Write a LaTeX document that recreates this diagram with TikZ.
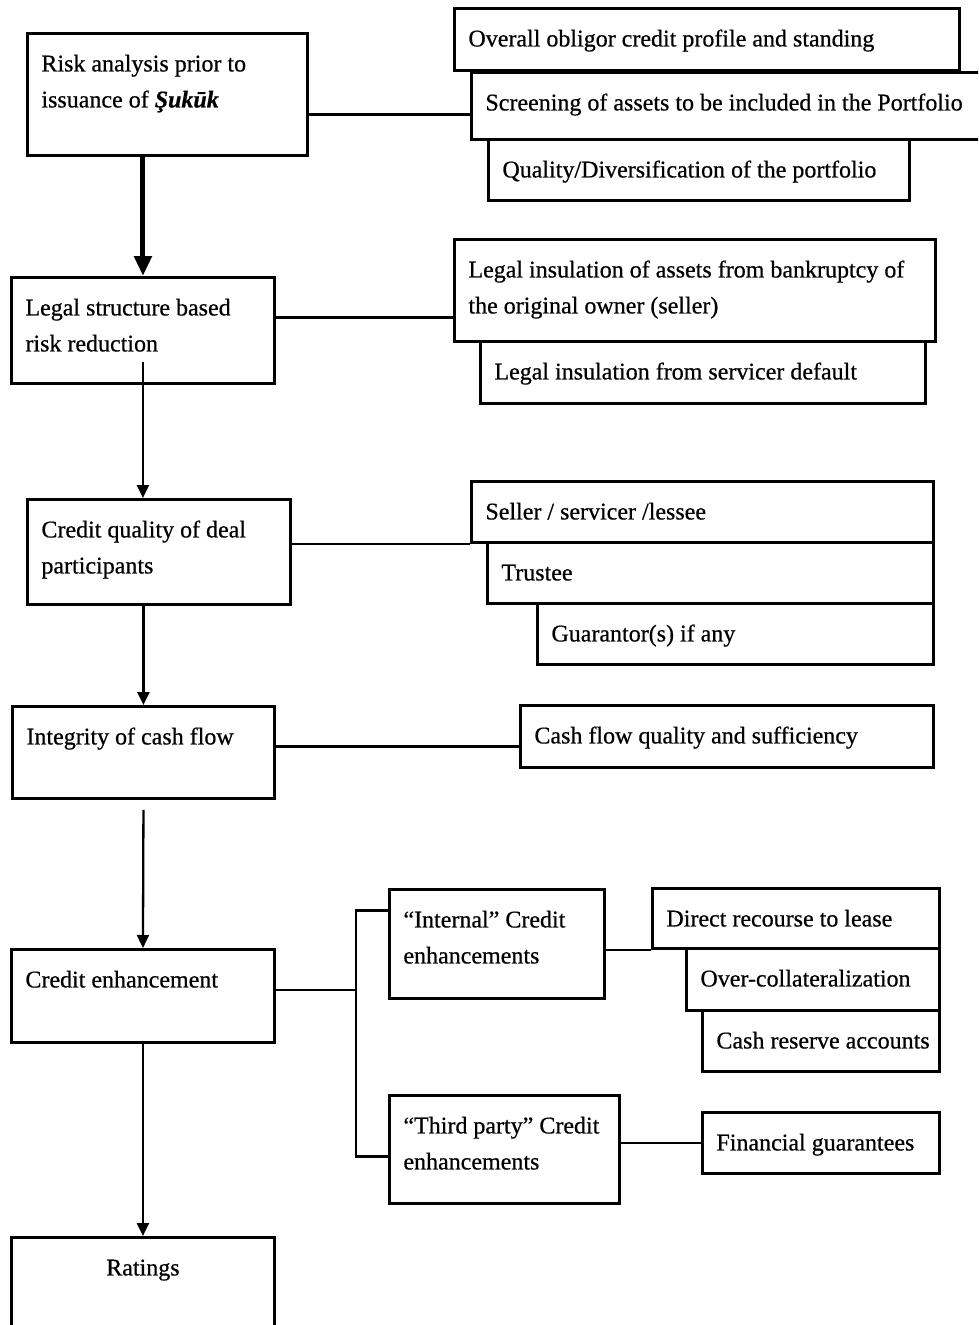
\documentclass[tikz,border=0pt]{standalone}
\usepackage{fontspec}
\setmainfont[FakeBold=0.6]{Liberation Serif}
\usetikzlibrary{arrows.meta}
\newcommand{\boxtext}[3]{\parbox[t][#2][t]{#1}{\raggedright\leftskip=14pt\rule{0pt}{38pt}#3}}
\tikzset{
  panel/.style={draw, fill=white, line width=2.9pt, inner sep=0pt, anchor=north west,
    font=\fontsize{24}{36}\selectfont},
  link/.style={line width=2.5pt},
  flow/.style={line width=2.3pt, -{Triangle[width=12pt,length=13pt]}},
  heavy/.style={line width=5pt, -{Triangle[width=17pt,length=20pt]}}
}
\begin{document}
\begin{tikzpicture}[x=1pt, y=-1pt]
		%%%%% START %%%%%
		\useasboundingbox (0,0) rectangle (978,1325);
		\clip (0,0) rectangle (978,1325);
		
		% main column
		\node[panel] (risk) at (26,32) {\boxtext{280pt}{122pt}{Risk analysis prior to\\issuance of \textbf{\textit{Şukūk}}}};
		\node[panel] (legal) at (10,276) {\boxtext{263pt}{106pt}{Legal structure based\\risk reduction}};
		\node[panel] (quality) at (26,498) {\boxtext{263pt}{105pt}{Credit quality of deal\\participants}};
		\node[panel] (integrity) at (11,705) {\boxtext{262pt}{92pt}{Integrity of cash flow}};
		\node[panel] (enhance) at (10,948) {\boxtext{263pt}{93pt}{Credit enhancement}};
		\node[panel] (ratings) at (10,1236) {\parbox[t][110pt][t]{263pt}{\centering\rule{0pt}{38pt}Ratings}};
		
		% risk analysis
		\node[panel] (obligor) at (453,7) {\boxtext{505pt}{62pt}{Overall obligor credit profile and standing}};
		\node[panel] (screening) at (470,71) {\boxtext{540pt}{67pt}{Screening of assets to be included in the Portfolio}};
		\node[panel] (portfolio) at (487,138) {\boxtext{421pt}{61pt}{Quality/Diversification of the portfolio}};
		
		% legal structure
		\node[panel] (bankrupt) at (453,238) {\boxtext{481pt}{102pt}{Legal insulation of assets from bankruptcy of\\the original owner (seller)}};
		\node[panel] (servicer) at (479,340) {\boxtext{445pt}{62pt}{Legal insulation from servicer default}};
		
		% deal participants
		\node[panel] (seller) at (470,480) {\boxtext{462pt}{61pt}{Seller / servicer /lessee}};
		\node[panel] (trustee) at (486,541) {\boxtext{446pt}{61pt}{Trustee}};
		\node[panel] (guarantor) at (536,602) {\boxtext{396pt}{61pt}{Guarantor(s) if any}};
		
		% cash flow
		\node[panel] (cashflow) at (519,704) {\boxtext{413pt}{62pt}{Cash flow quality and sufficiency}};
		
		% credit enhancement
		\node[panel] (internal) at (388,888) {\boxtext{215pt}{109pt}{“Internal” Credit\\enhancements}};
		\node[panel] (direct) at (651,887) {\boxtext{287pt}{60pt}{Direct recourse to lease}};
		\node[panel] (overcoll) at (685,947) {\boxtext{253pt}{62pt}{Over-collateralization}};
		\node[panel] (reserve) at (701,1009) {\boxtext{237pt}{61pt}{Cash reserve accounts}};
		\node[panel] (thirdparty) at (388,1094) {\boxtext{230pt}{108pt}{“Third party” Credit\\enhancements}};
		\node[panel] (guarantees) at (701,1111) {\boxtext{237pt}{61pt}{Financial guarantees}};
		\coordinate (fork) at (356,990);
		
		% arrows down the main column
		\draw[heavy] (risk.south -| legal.north) -- (legal.north);
		\draw[flow] ([yshift=23pt]legal.south) -- (legal.south |- quality.north);
		\draw[flow] (quality.south -| integrity.north) -- (integrity.north);
		\draw[flow] ([yshift=-10pt]integrity.south) -- (enhance.north);
		\draw[flow] (enhance.south) -- (ratings.north);
		
		% side links
		\draw[link] ([yshift=-20pt]risk.east) -- ([yshift=-20pt]risk.east -| screening.west);
		\draw[link] ([yshift=13pt]legal.east) -- ([yshift=13pt]legal.east -| bankrupt.west);
		\draw[link] (seller.south west -| quality.east) -- (seller.south west);
		\draw[link] ([yshift=6pt]integrity.east) -- ([yshift=6pt]integrity.east -| cashflow.west);
		\draw[link] (enhance.east |- fork) -- (fork);
		\draw[link] ([yshift=33.5pt]internal.west) -| (fork) |- ([yshift=-7pt]thirdparty.west);
		\draw[link] (direct.south west -| internal.east) -- (direct.south west);
		\draw[link] (guarantees.west -| thirdparty.east) -- (guarantees.west);
		
		%%%%% END %%%%%
	\end{tikzpicture}
\end{document}
